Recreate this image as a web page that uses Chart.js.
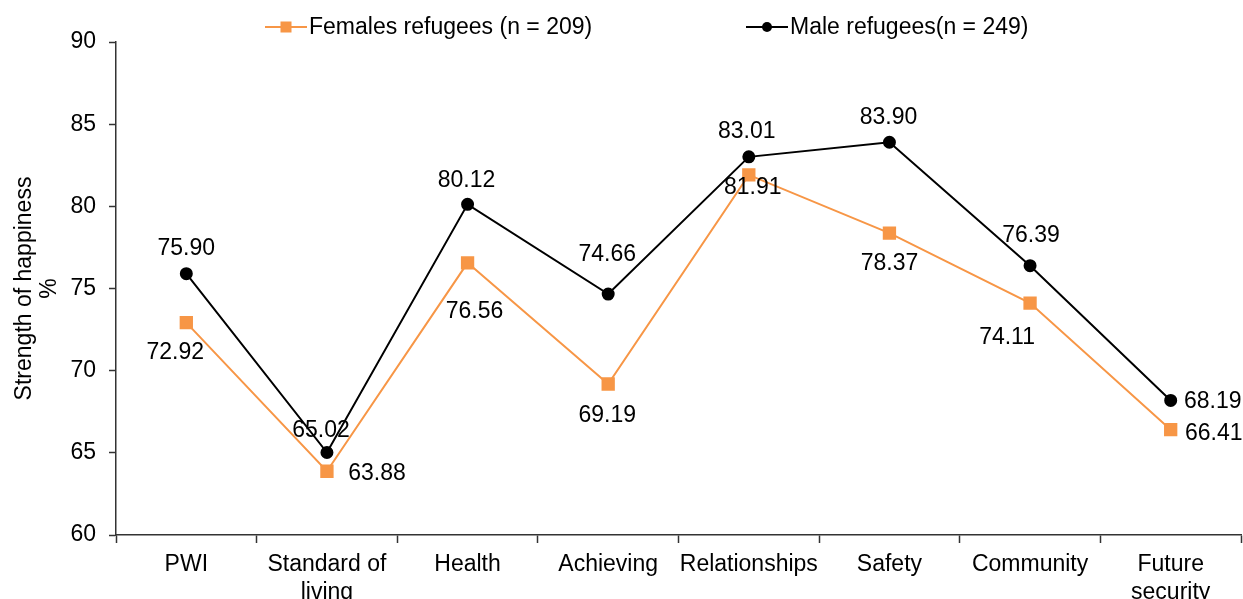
<!DOCTYPE html>
<html>
<head>
<meta charset="utf-8">
<script src="https://cdn.jsdelivr.net/npm/chart.js@4.4.1/dist/chart.umd.min.js"></script>
<style>
  html, body { margin: 0; padding: 0; background: #fff; }
  #wrap { width: 1243px; height: 599px; position: relative; }
</style>
</head>
<body>
<div id="wrap"><canvas id="chart"></canvas></div>
<script>
// ---- data ----
const categories = ['PWI', ['Standard of', 'living'], 'Health', 'Achieving', 'Relationships', 'Safety', 'Community', ['Future', 'security']];
const femaleValues = [72.92, 63.88, 76.56, 69.19, 81.91, 78.37, 74.11, 66.41];
const maleValues = [75.90, 65.02, 80.12, 74.66, 83.01, 83.90, 76.39, 68.19];
const femaleName = 'Females refugees (n = 209)';
const maleName = 'Male refugees(n = 249)';
const yTicks = [60, 65, 70, 75, 80, 85, 90];

// where each value label goes relative to its point (dx, dy in px)
const femaleLabelPos = [[-11, 29], [50, 1], [7, 48], [-1, 31], [4, 12], [0, 30], [-23, 34], [43, 3]];
const maleLabelPos = [[0, -26], [-6, -23], [-1, -25], [-1, -40], [-2, -26], [-1, -26], [1, -31], [42, 0]];

const FONT = '"Liberation Sans", Arial, sans-serif';
const ORANGE = '#F79646';

// value labels
const valueLabels = {
    id: 'valueLabels',
    afterDatasetsDraw(chart) {
        const ctx = chart.ctx;
        ctx.save();
        ctx.font = '23px ' + FONT;
        ctx.fillStyle = '#000';
        ctx.textAlign = 'center';
        ctx.textBaseline = 'middle';
        chart.data.datasets.forEach((ds, i) => {
            const meta = chart.getDatasetMeta(i);
            meta.data.forEach((pt, j) => {
                const off = ds.labelPos[j];
                ctx.fillText(ds.data[j].toFixed(2), pt.x + off[0], pt.y + off[1] + 1);
            });
        });
        ctx.restore();
    }
};

// legend: line + marker + text, like the original
const lineLegend = {
    id: 'lineLegend',
    afterDraw(chart) {
        const ctx = chart.ctx;
        const items = [
            { x: 265, color: ORANGE, shape: 'rect', text: femaleName },
            { x: 746, color: '#000', shape: 'circle', text: maleName }
        ];
        const y = 27;
        ctx.save();
        items.forEach(it => {
            ctx.strokeStyle = it.color;
            ctx.fillStyle = it.color;
            ctx.lineWidth = 2;
            ctx.beginPath();
            ctx.moveTo(it.x, y);
            ctx.lineTo(it.x + 42, y);
            ctx.stroke();
            if (it.shape === 'rect') {
                ctx.fillRect(it.x + 15.5, y - 5.5, 11, 11);
            } else {
                ctx.beginPath();
                ctx.arc(it.x + 21, y, 5, 0, Math.PI * 2);
                ctx.fill();
            }
            ctx.fillStyle = '#000';
            ctx.font = '23px ' + FONT;
            ctx.textBaseline = 'middle';
            ctx.fillText(it.text, it.x + 44, y + 1);
        });
        ctx.restore();
    }
};

new Chart(document.getElementById('chart'), {
    type: 'line',
    data: {
        labels: categories,
        datasets: [
            {
                label: femaleName,
                data: femaleValues,
                labelPos: femaleLabelPos,
                borderColor: ORANGE,
                backgroundColor: ORANGE,
                borderWidth: 2,
                pointStyle: 'rect',
                pointRadius: 8,
                pointHoverRadius: 8,
                tension: 0
            },
            {
                label: maleName,
                data: maleValues,
                labelPos: maleLabelPos,
                borderColor: '#000',
                backgroundColor: '#000',
                borderWidth: 2,
                pointStyle: 'circle',
                pointRadius: 5.5,
                pointHoverRadius: 5.5,
                tension: 0
            }
        ]
    },
    options: {
        responsive: true,
        maintainAspectRatio: false,
        animation: false,
        layout: { autoPadding: false, padding: { top: 42, right: 2, left: 0, bottom: 0 } },
        plugins: {
            legend: { display: false },
            tooltip: { enabled: false }
        },
        scales: {
            x: {
                offset: true,
                grid: { offset: true, drawOnChartArea: false, tickLength: 8, color: '#333', tickWidth: 1.5 },
                border: { color: '#333', width: 1.5 },
                ticks: { color: '#000', font: { family: FONT, size: 23 }, padding: 8, maxRotation: 0, autoSkip: false },
                afterFit(axis) { axis.height = 64; }
            },
            y: {
                min: 60,
                max: 90,
                afterBuildTicks(axis) { axis.ticks = yTicks.map(v => ({ value: v })); },
                grid: { drawOnChartArea: false, tickLength: 7, color: '#333', tickWidth: 1.5 },
                border: { color: '#333', width: 1.5 },
                ticks: { color: '#000', font: { family: FONT, size: 23 }, padding: 13 },
                title: {
                    display: true,
                    text: ['Strength of happiness', '%'],
                    color: '#000',
                    font: { family: FONT, size: 23, lineHeight: 1.05 },
                    padding: { top: 13, bottom: 0 }
                },
                afterFit(axis) { axis.width = 116; }
            }
        }
    },
    plugins: [valueLabels, lineLegend]
});
</script>
</body>
</html>
